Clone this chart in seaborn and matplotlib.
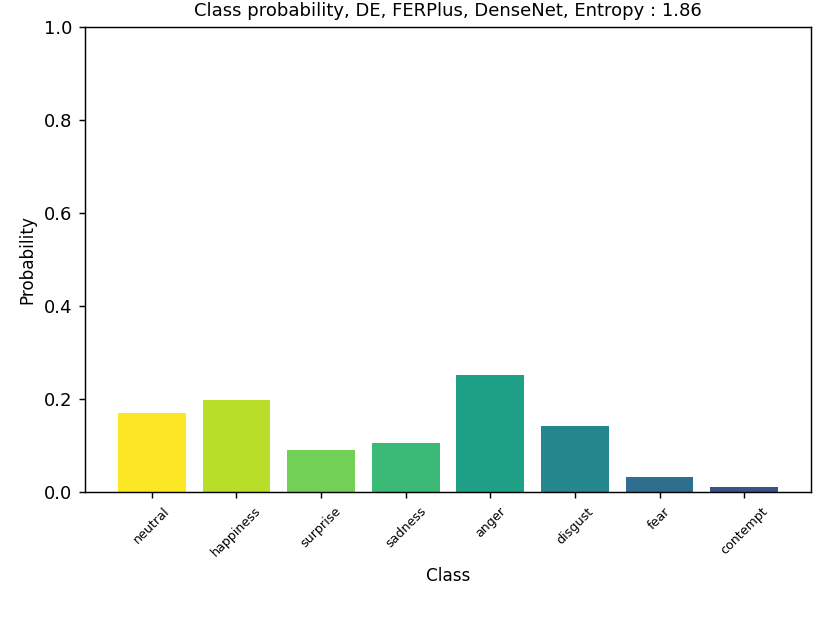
import matplotlib
matplotlib.use('Agg')
import matplotlib.pyplot as plt
import numpy as np
import pandas as pd
import seaborn as sns

# class probabilities
classes = ['neutral', 'happiness', 'surprise', 'sadness', 'anger', 'disgust', 'fear', 'contempt']
probs = [0.169, 0.198, 0.090, 0.105, 0.252, 0.143, 0.032, 0.010]
entropy = 1.86

df = pd.DataFrame({'Class': classes, 'Probability': probs})
colors = [matplotlib.colors.to_hex(c) for c in plt.cm.viridis(np.linspace(1.0, 0.25, len(classes)))]

fig, ax = plt.subplots(figsize=(830 / 130, 623 / 130), dpi=130)
fig.subplots_adjust(left=85 / 830, right=811 / 830, top=1 - 27 / 623, bottom=1 - 492 / 623)

sns.barplot(data=df, x='Class', y='Probability', hue='Class', palette=colors,
            saturation=1, width=0.8, legend=False, ax=ax)
ax.set_ylim(0, 1)
ax.set_xlim(-0.79, len(classes) - 0.21)
ax.set_title('Class probability, DE, FERPlus, DenseNet, Entropy : %.2f' % entropy, fontsize=10)
ax.set_xlabel('Class', fontsize=9.3)
ax.set_ylabel('Probability', fontsize=9.3)
ax.tick_params(axis='x', labelsize=7)
plt.setp(ax.get_xticklabels(), rotation=45)

fig.savefig('out.png', dpi=130)
